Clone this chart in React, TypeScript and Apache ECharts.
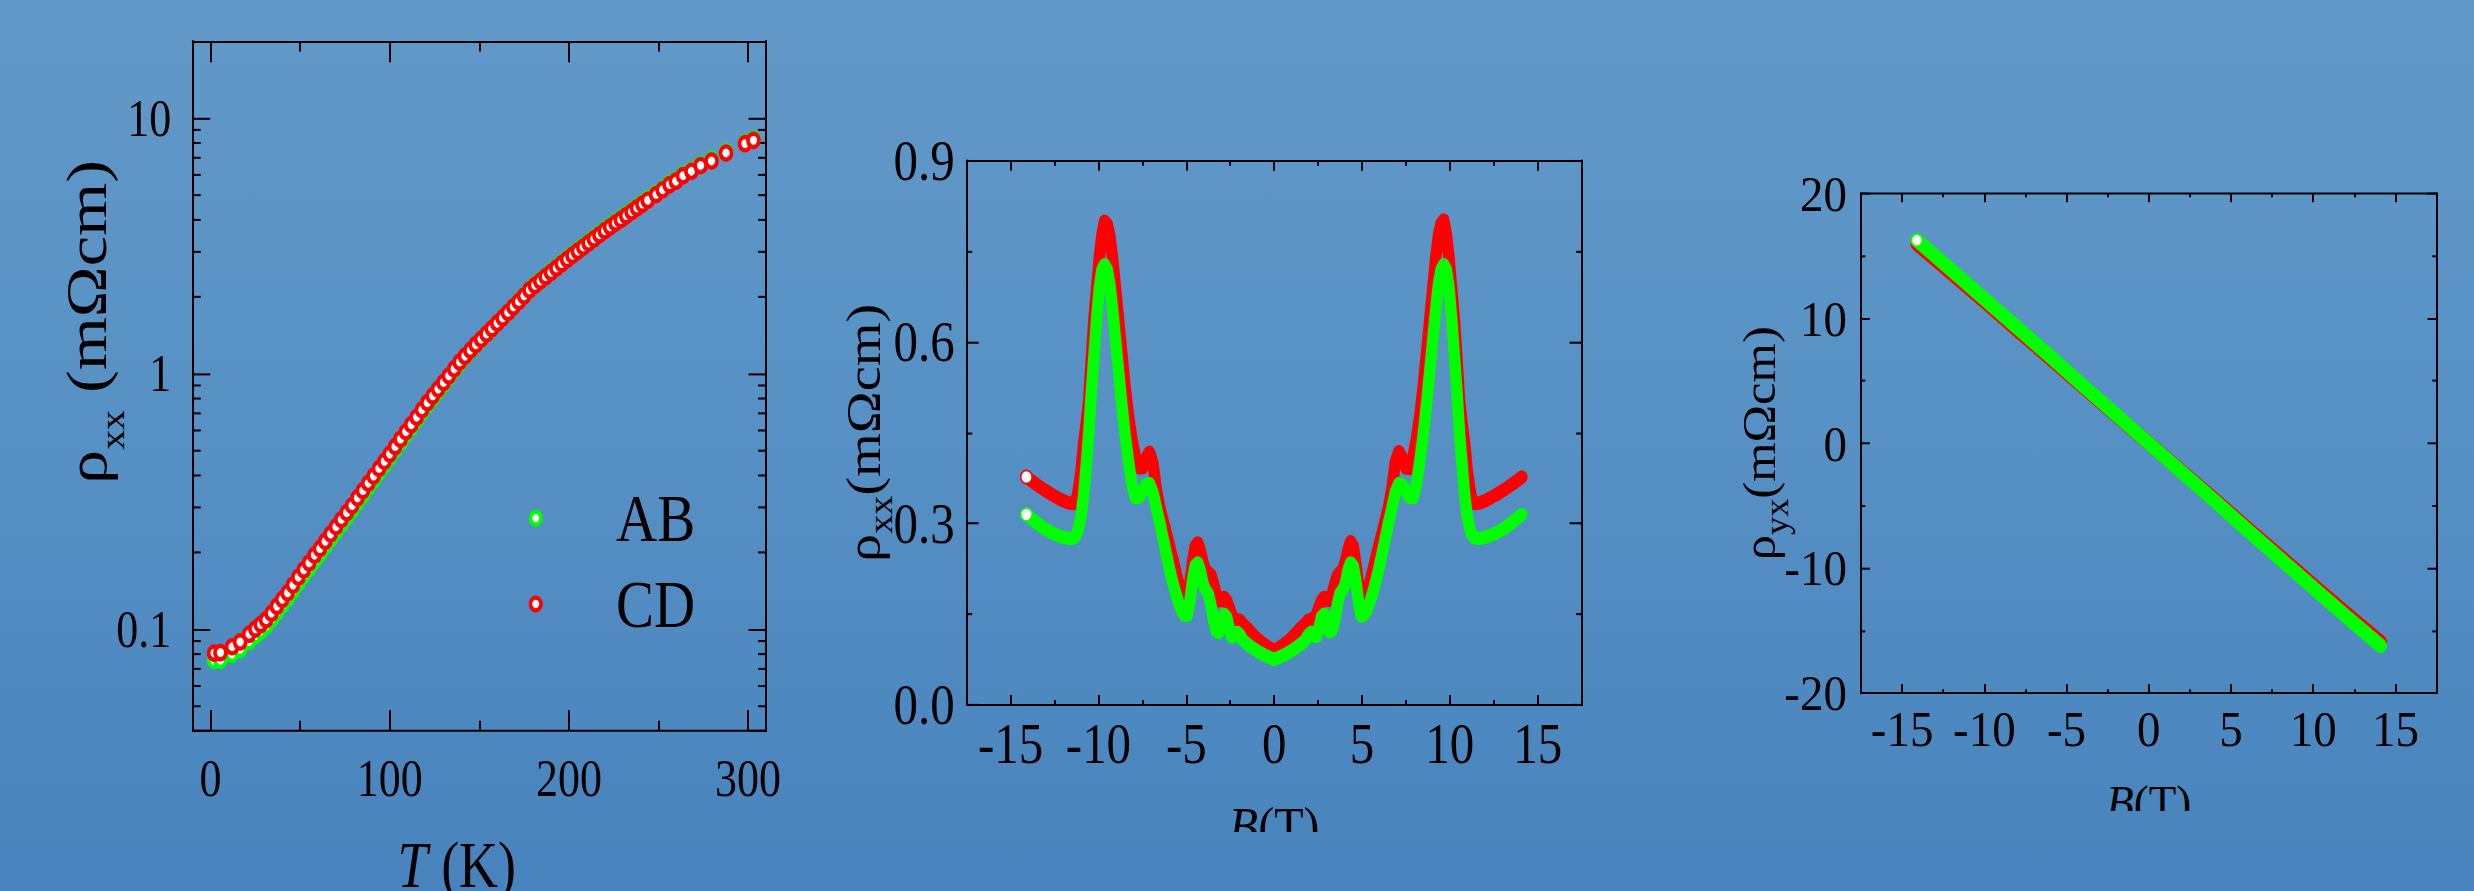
import React, { useEffect, useRef } from 'react';
import * as echarts from 'echarts';

const FONT = '"Liberation Serif", "Times New Roman", Times, serif';
const GREEN = '#00ff00';
const RED = '#ff0000';
const BLACK = '#000000';

// ---------------- Panel 1 : rho_xx vs T (log) ----------------
const T_K = [
  2, 5.5, 12, 16.5, 21.5, 25, 28, 31, 34, 37, 40, 43, 46, 49, 52, 55, 58, 61, 64, 67, 70, 73, 76, 79, 82, 85, 88, 91, 94, 97,
  100, 103, 106, 109, 112, 115, 118, 121, 124, 127, 130, 133, 136, 139, 142, 145, 148, 151, 154, 157, 160, 163, 166, 169,
  172, 175, 178, 181, 184, 187, 190, 193, 196, 199, 202, 205, 208, 211, 214, 217, 220, 223, 226, 229, 232, 235, 238, 241,
  244, 248.7, 252.3, 256.2, 259.7, 263.7, 268.4, 273.5, 279.6, 287.7, 298.3, 303,
];
const RHO_CD = [
  0.0807, 0.0811, 0.0855, 0.0893, 0.0957, 0.1005, 0.1045, 0.109, 0.1156, 0.123, 0.131, 0.139, 0.149, 0.16, 0.171, 0.182,
  0.195, 0.207, 0.221, 0.236, 0.252, 0.269, 0.286, 0.305, 0.327, 0.349, 0.373, 0.398, 0.426, 0.454,
  0.485, 0.519, 0.555, 0.593, 0.632, 0.676, 0.723, 0.771, 0.82, 0.871, 0.925, 0.982, 1.045, 1.112, 1.172, 1.236, 1.3,
  1.365, 1.432, 1.503, 1.578, 1.656, 1.738, 1.828,
  1.919, 2.018, 2.128, 2.218, 2.307, 2.399, 2.495, 2.594, 2.698, 2.805, 2.911, 3.02, 3.133, 3.251, 3.373, 3.499, 3.631,
  3.758, 3.89, 4.018, 4.159, 4.305, 4.457, 4.613,
  4.775, 5.03, 5.25, 5.5, 5.67, 5.96, 6.2, 6.53, 6.8, 7.31, 7.95, 8.19,
];
const RHO_AB = [
  0.0755, 0.0758, 0.08, 0.0835, 0.0897, 0.0945, 0.0985, 0.103, 0.1095, 0.1166, 0.1243, 0.132, 0.1414, 0.1518, 0.1623,
  0.1728, 0.1853, 0.197, 0.2108, 0.2253, 0.2408, 0.2573, 0.2738, 0.2924, 0.314, 0.3355, 0.359, 0.3835, 0.411, 0.4385,
  0.469, 0.503, 0.5385, 0.576, 0.615, 0.6585, 0.7055, 0.754, 0.803, 0.8545, 0.909, 0.9665, 1.03, 1.098, 1.16, 1.226,
  1.292, 1.358, 1.427, 1.5, 1.576, 1.656, 1.74, 1.835,
  1.928, 2.028, 2.14, 2.232, 2.322, 2.416, 2.514, 2.615, 2.721, 2.83, 2.938, 3.05, 3.165, 3.285, 3.409, 3.537, 3.671,
  3.8, 3.934, 4.064, 4.207, 4.355, 4.509, 4.667,
  4.831, 5.09, 5.31, 5.56, 5.73, 6.03, 6.27, 6.6, 6.88, 7.39, 8.03, 8.28,
];
const T_RANGE = [-10, 310];
const RHO_RANGE = [0.04, 20];
const LOG_MINOR_TICKS = [0.05, 0.06, 0.07, 0.08, 0.09, 0.2, 0.3, 0.4, 0.5, 0.6, 0.7, 0.8, 0.9, 2, 3, 4, 5, 6, 7, 8, 9];

// ---------------- Panel 2 : rho_xx vs B ----------------
const B_MR = [
  -14.1, -13.6, -13.1, -12.6, -12.1, -11.7, -11.4, -11.2, -11.0, -10.85, -10.7, -10.55, -10.4, -10.25, -10.1, -9.95,
  -9.8, -9.65, -9.5, -9.35, -9.2, -9.05, -8.9, -8.7, -8.5, -8.3, -8.1, -7.9, -7.7, -7.5, -7.3, -7.1, -6.9, -6.7, -6.5,
  -6.3, -6.1, -5.9, -5.7, -5.5, -5.3, -5.1, -4.95, -4.8, -4.65, -4.5, -4.35, -4.2, -4.05, -3.9, -3.75, -3.6, -3.45,
  -3.3, -3.15, -3.0, -2.85, -2.7, -2.55, -2.4, -2.25, -2.1, -1.95, -1.8, -1.5, -1.2, -0.9, -0.6, -0.3, 0,
  0.3, 0.6, 0.9, 1.2, 1.5, 1.8, 1.95, 2.1, 2.25, 2.4, 2.55, 2.7, 2.85, 3.0, 3.15, 3.3, 3.45, 3.6, 3.75, 3.9, 4.05, 4.2,
  4.35, 4.5, 4.65, 4.8, 4.95, 5.1, 5.3, 5.5, 5.7, 5.9, 6.1, 6.3, 6.5, 6.7, 6.9, 7.1, 7.3, 7.5, 7.7, 7.9, 8.1, 8.3, 8.5,
  8.7, 8.9, 9.05, 9.2, 9.35, 9.5, 9.65, 9.8, 9.95, 10.1, 10.25, 10.4, 10.55, 10.7, 10.85, 11.0, 11.2, 11.4, 11.7, 12.1,
  12.6, 13.1, 13.6, 14.1,
];
const RXX_CD = [
  0.377, 0.366, 0.356, 0.347, 0.339, 0.334, 0.333, 0.345, 0.385, 0.43, 0.465, 0.505, 0.575, 0.64, 0.69, 0.74,
  0.778, 0.8, 0.795, 0.775, 0.74, 0.695, 0.65, 0.59, 0.53, 0.48, 0.44, 0.41, 0.392, 0.392, 0.408, 0.418, 0.4, 0.355, 0.325,
  0.302, 0.279, 0.256, 0.232, 0.208, 0.19, 0.178, 0.178, 0.2, 0.235, 0.262, 0.268, 0.255, 0.235, 0.222, 0.219, 0.215, 0.2,
  0.182, 0.172, 0.173, 0.178, 0.172, 0.16, 0.148, 0.141, 0.141, 0.14, 0.134, 0.126, 0.116, 0.108, 0.101, 0.095, 0.089,
  0.095, 0.101, 0.108, 0.117, 0.127, 0.135, 0.14, 0.142, 0.142, 0.149, 0.161, 0.173, 0.178, 0.173, 0.173, 0.183, 0.2,
  0.214, 0.219, 0.223, 0.236, 0.256, 0.27, 0.263, 0.233, 0.198, 0.176, 0.178, 0.19, 0.208, 0.232, 0.256, 0.279, 0.302,
  0.326, 0.357, 0.402, 0.419, 0.408, 0.392, 0.391, 0.41, 0.44, 0.48, 0.53, 0.59, 0.65, 0.695, 0.74, 0.776, 0.796, 0.802,
  0.779, 0.74, 0.69, 0.64, 0.575, 0.505, 0.465, 0.43, 0.385, 0.345, 0.333, 0.334, 0.339, 0.347, 0.356, 0.366, 0.377,
];
const RXX_AB = [
  0.315, 0.303, 0.292, 0.284, 0.278, 0.275, 0.276, 0.285, 0.31, 0.345, 0.395, 0.45, 0.52, 0.58, 0.64, 0.69,
  0.72, 0.728, 0.72, 0.695, 0.655, 0.61, 0.565, 0.505, 0.45, 0.405, 0.365, 0.343, 0.343, 0.353, 0.364, 0.366, 0.352,
  0.325, 0.3, 0.272, 0.245, 0.218, 0.195, 0.175, 0.158, 0.148, 0.148, 0.17, 0.205, 0.23, 0.235, 0.222, 0.2, 0.19,
  0.184, 0.165, 0.14, 0.122, 0.12, 0.135, 0.15, 0.145, 0.125, 0.112, 0.115, 0.12, 0.116, 0.108, 0.1, 0.094, 0.088,
  0.083, 0.079, 0.075,
  0.079, 0.083, 0.088, 0.094, 0.1, 0.108, 0.116, 0.12, 0.116, 0.113, 0.126, 0.146, 0.15, 0.136, 0.121, 0.123, 0.141,
  0.166, 0.185, 0.19, 0.2, 0.222, 0.235, 0.23, 0.205, 0.17, 0.147, 0.148, 0.158, 0.175, 0.195, 0.218, 0.245, 0.272,
  0.3, 0.325, 0.352, 0.366, 0.364, 0.353, 0.343, 0.343, 0.365, 0.405, 0.45, 0.505, 0.565, 0.61, 0.655, 0.695, 0.72,
  0.728, 0.72, 0.69, 0.64, 0.58, 0.52, 0.45, 0.395, 0.345, 0.31, 0.285, 0.276, 0.275, 0.278, 0.284, 0.292, 0.303, 0.315,
];
const B_RANGE = [-17.5, 17.5];
const RXX_RANGE = [0, 0.9];

// ---------------- Panel 3 : rho_yx vs B ----------------
const B_HALL = [-14.1, -12, -10, -8, -6, -4, -2, 0, 2, 4, 6, 8, 10, 12, 14.1];
const RYX_AB = [16.25, 13.85, 11.55, 9.25, 6.95, 4.6, 2.3, 0, -2.3, -4.6, -6.95, -9.25, -11.55, -13.85, -16.2];
const RYX_CD = [15.95, 13.6, 11.35, 9.05, 6.8, 4.5, 2.25, 0, -2.25, -4.5, -6.8, -9.05, -11.35, -13.6, -15.9];
const RYX_RANGE = [-20, 20];

const zip = (xs: number[], ys: number[]) => xs.map((x, i) => [x, ys[i]]);

// vertical stretch factors of each panel (the reference panels are stretched vertically)
const S1 = 1.2;
const S2 = 1.15;
const S3 = 1.1;

function xAxisPair(o: any) {
  const base = {
    type: 'value',
    min: o.min,
    max: o.max,
    splitNumber: o.splitNumber,
    axisLine: { show: true, onZero: false, lineStyle: { color: BLACK, width: o.lineW } },
    axisTick: { show: true, inside: true, length: o.tickLen, lineStyle: { color: BLACK, width: o.tickW } },
    minorTick: { show: true, splitNumber: 2, length: o.minorLen, lineStyle: { color: BLACK, width: o.tickW } },
    splitLine: { show: false },
    minorSplitLine: { show: false },
  };
  return [
    {
      ...base,
      position: 'bottom',
      axisLabel: {
        show: true,
        fontFamily: FONT,
        fontSize: o.fontSize,
        color: BLACK,
        margin: o.margin,
        formatter: o.formatter,
        hideOverlap: false,
      },
      name: o.name,
      nameLocation: 'middle',
      nameGap: o.nameGap,
      nameMoveOverlap: false,
      nameTextStyle: o.nameTextStyle,
    },
    { ...base, position: 'top', axisLabel: { show: false } },
  ];
}

function yAxisPair(o: any) {
  const base: any = {
    type: o.type || 'value',
    min: o.min,
    max: o.max,
    axisLine: { show: true, onZero: false, lineStyle: { color: BLACK, width: o.lineW } },
    axisTick: { show: true, inside: true, length: o.tickLen, lineStyle: { color: BLACK, width: o.tickW } },
    splitLine: { show: false },
    minorSplitLine: { show: false },
  };
  if (o.interval != null) base.interval = o.interval;
  if (o.type === 'log') base.logBase = 10;
  else base.minorTick = { show: true, splitNumber: 2, length: o.minorLen, lineStyle: { color: BLACK, width: o.tickW } };
  return [
    {
      ...base,
      position: 'left',
      axisLabel: {
        show: true,
        fontFamily: FONT,
        fontSize: o.fontSize,
        color: BLACK,
        margin: o.margin,
        formatter: o.formatter,
        hideOverlap: false,
      },
      name: o.name,
      nameLocation: 'middle',
      nameRotate: 90,
      nameGap: o.nameGap,
      nameMoveOverlap: false,
      nameTextStyle: o.nameTextStyle,
    },
    { ...base, position: 'right', axisLabel: { show: false } },
  ];
}

function xNameStyle(size: number, padding: number[]) {
  return {
    fontFamily: FONT,
    fontSize: size,
    color: BLACK,
    padding,
    rich: {
      i: { fontFamily: FONT, fontSize: size, lineHeight: size, fontStyle: 'italic', color: BLACK },
      n: { fontFamily: FONT, fontSize: size, lineHeight: size, color: BLACK },
    },
  };
}

function yNameStyle(size: number, sub: number, drop: number, padding: number[]) {
  return {
    fontFamily: FONT,
    fontSize: size,
    color: BLACK,
    padding,
    rich: {
      r: { fontFamily: FONT, fontSize: size, lineHeight: size, verticalAlign: 'top', color: BLACK },
      s: {
        fontFamily: FONT,
        fontSize: sub,
        lineHeight: sub,
        verticalAlign: 'top',
        padding: [drop, 0, 0, 0],
        color: BLACK,
      },
    },
  };
}

const mult = (step: number) => (v: number) =>
  Math.abs(v / step - Math.round(v / step)) < 1e-6 ? String(Math.round(v * 1000) / 1000) : '';

const logFmt = (v: number) => {
  const l = Math.log10(v);
  if (Math.abs(l - Math.round(l)) > 1e-6) return '';
  return String(+v.toPrecision(3));
};

const gridBase = { containLabel: false, outerBoundsMode: 'none' };

// ---------------- options ----------------
const option1: any = {
  animation: false,
  textStyle: { fontFamily: FONT },
  grid: { ...gridBase, left: 192.7, top: 34.4, width: 573.3, height: 574.8 },
  legend: {
    orient: 'vertical',
    left: 528.75,
    top: 403.4,
    padding: 0,
    itemGap: 14.4,
    itemWidth: 10.5,
    itemHeight: 10.5,
    selectedMode: false,
    textStyle: { fontFamily: FONT, fontSize: 57, lineHeight: 57, color: BLACK, padding: [0, 0, 0, 70] },
    data: [
      { name: 'AB', icon: 'circle', itemStyle: { color: '#ffffff', borderColor: GREEN, borderWidth: 3.5 } },
      { name: 'CD', icon: 'circle', itemStyle: { color: '#ffffff', borderColor: RED, borderWidth: 3.5 } },
    ],
  },
  xAxis: xAxisPair({
    min: T_RANGE[0],
    max: T_RANGE[1],
    splitNumber: 3,
    lineW: 1.7,
    tickW: 2,
    tickLen: 17.5,
    minorLen: 8.5,
    fontSize: 44,
    margin: 17.5,
    formatter: mult(100),
    name: '{i|T}{n| (K)}',
    nameGap: 85,
    nameTextStyle: xNameStyle(54, [0, 45, 0, 0]),
  }),
  yAxis: yAxisPair({
    type: 'log',
    min: RHO_RANGE[0],
    max: RHO_RANGE[1],
    lineW: 2,
    tickW: 1.7,
    tickLen: 17.5,
    fontSize: 44,
    margin: 21.5,
    formatter: logFmt,
    name: '{r|ρ}{s|xx}{r| (mΩcm)}',
    nameGap: 77.5,
    nameTextStyle: yNameStyle(57, 33, 38, [0, 0, 0, 107]),
  }),
  series: [
    {
      type: 'scatter',
      name: 'AB',
      data: zip(T_K, RHO_AB),
      symbol: 'circle',
      symbolSize: 11,
      silent: true,
      itemStyle: { color: '#ffffff', borderColor: GREEN, borderWidth: 3.6, opacity: 1 },
    },
    {
      type: 'scatter',
      name: 'CD',
      data: zip(T_K, RHO_CD),
      symbol: 'circle',
      symbolSize: 11,
      silent: true,
      itemStyle: { color: '#ffffff', borderColor: RED, borderWidth: 3.6, opacity: 1 },
    },
    {
      type: 'custom',
      silent: true,
      clip: false,
      encode: { x: 0, y: 1 },
      data: LOG_MINOR_TICKS.map((v) => [T_RANGE[0], v]),
      renderItem: (_p: any, api: any) => {
        const v = api.value(1);
        const a = api.coord([T_RANGE[0], v]);
        const b = api.coord([T_RANGE[1], v]);
        const st = { stroke: BLACK, lineWidth: 1.7 };
        return {
          type: 'group',
          children: [
            { type: 'line', shape: { x1: a[0], y1: a[1], x2: a[0] + 8, y2: a[1] }, style: st },
            { type: 'line', shape: { x1: b[0] - 8, y1: b[1], x2: b[0], y2: b[1] }, style: st },
          ],
        };
      },
    },
  ],
};

const bandLine = (name: string, xs: number[], ys: number[], color: string, width: number) => ({
  type: 'line',
  name,
  data: zip(xs, ys),
  symbol: 'none',
  silent: true,
  lineStyle: { color, width, cap: 'round', join: 'round' },
});

const endDot = (xs: number[], ys: number[], color: string, size: number) => ({
  type: 'scatter',
  data: [[xs[0], ys[0]]],
  symbol: 'circle',
  symbolSize: size,
  silent: true,
  itemStyle: { color: '#ffffff', borderColor: color, borderWidth: 1.5, opacity: 1 },
  z: 5,
});

const option2: any = {
  animation: false,
  textStyle: { fontFamily: FONT },
  grid: { ...gridBase, left: 166.7, top: 139.7, width: 614.9, height: 473.3 },
  xAxis: xAxisPair({
    min: B_RANGE[0],
    max: B_RANGE[1],
    splitNumber: 7,
    lineW: 1.8,
    tickW: 2,
    tickLen: 8.7,
    minorLen: 4.35,
    fontSize: 49,
    margin: 9,
    formatter: mult(5),
    name: '{i|B}{n|(T)}',
    nameGap: 81.7,
    nameTextStyle: xNameStyle(48, [0, 0, 0, 0]),
  }),
  yAxis: yAxisPair({
    min: RXX_RANGE[0],
    max: RXX_RANGE[1],
    interval: 0.3,
    lineW: 2,
    tickW: 1.8,
    tickLen: 12,
    minorLen: 5.5,
    fontSize: 49,
    margin: 12,
    formatter: (v: number) => v.toFixed(1),
    name: '{r|ρ}{s|xx}{r|(mΩcm)}',
    nameGap: 79,
    nameTextStyle: yNameStyle(49, 33, 25.8, [0, 0, 0, 0]),
  }),
  series: [
    bandLine('CD', B_MR, RXX_CD, RED, 11.5),
    bandLine('AB', B_MR, RXX_AB, GREEN, 11.5),
    endDot(B_MR, RXX_CD, RED, 11.5),
    endDot(B_MR, RXX_AB, GREEN, 11.5),
  ],
};

const option3: any = {
  animation: false,
  textStyle: { fontFamily: FONT },
  grid: { ...gridBase, left: 221, top: 175.7, width: 575.5, height: 454.5 },
  xAxis: xAxisPair({
    min: B_RANGE[0],
    max: B_RANGE[1],
    splitNumber: 7,
    lineW: 1.8,
    tickW: 2,
    tickLen: 8.2,
    minorLen: 3.6,
    fontSize: 47,
    margin: 9,
    formatter: mult(5),
    name: '{i|B}{n|(T)}',
    nameGap: 77,
    nameTextStyle: xNameStyle(45, [0, 0, 0, 0]),
  }),
  yAxis: yAxisPair({
    min: RYX_RANGE[0],
    max: RYX_RANGE[1],
    interval: 10,
    lineW: 2,
    tickW: 1.8,
    tickLen: 9,
    minorLen: 4.3,
    fontSize: 47,
    margin: 14,
    formatter: (v: number) => String(v),
    name: '{r|ρ}{s|yx}{r|(mΩcm)}',
    nameGap: 78.7,
    nameTextStyle: yNameStyle(46, 33, 24.4, [0, 0, 0, 0]),
  }),
  series: [
    bandLine('CD', B_HALL, RYX_CD, RED, 13),
    bandLine('AB', B_HALL, RYX_AB, GREEN, 13),
    endDot(B_HALL, RYX_AB, GREEN, 11),
  ],
};

export default function App() {
  const r1 = useRef<HTMLDivElement>(null);
  const r2 = useRef<HTMLDivElement>(null);
  const r3 = useRef<HTMLDivElement>(null);

  useEffect(() => {
    const pairs: [HTMLDivElement | null, any][] = [
      [r1.current, option1],
      [r2.current, option2],
      [r3.current, option3],
    ];
    const charts = pairs.map(([el, opt]) => {
      const c = echarts.init(el as HTMLDivElement, null, { renderer: 'svg' });
      c.setOption(opt);
      return c;
    });
    return () => charts.forEach((c) => c.dispose());
  }, []);

  return (
    <div
      style={{
        position: 'fixed',
        left: 0,
        top: 0,
        width: 2474,
        height: 891,
        overflow: 'hidden',
        background: 'linear-gradient(to bottom, #6399c8 0%, #5690c4 50%, #4883bd 100%)',
      }}
    >
      <div style={{ position: 'absolute', left: 0, top: 0, width: 860, height: 891, overflow: 'hidden' }}>
        <div ref={r1} style={{ width: 860, height: 820, transform: `scaleY(${S1})`, transformOrigin: '0 0' }} />
      </div>
      <div style={{ position: 'absolute', left: 800, top: 0, width: 860, height: 832, overflow: 'hidden' }}>
        <div ref={r2} style={{ width: 860, height: 820, transform: `scaleY(${S2})`, transformOrigin: '0 0' }} />
      </div>
      <div style={{ position: 'absolute', left: 1640, top: 0, width: 834, height: 811, overflow: 'hidden' }}>
        <div ref={r3} style={{ width: 834, height: 820, transform: `scaleY(${S3})`, transformOrigin: '0 0' }} />
      </div>
    </div>
  );
}
